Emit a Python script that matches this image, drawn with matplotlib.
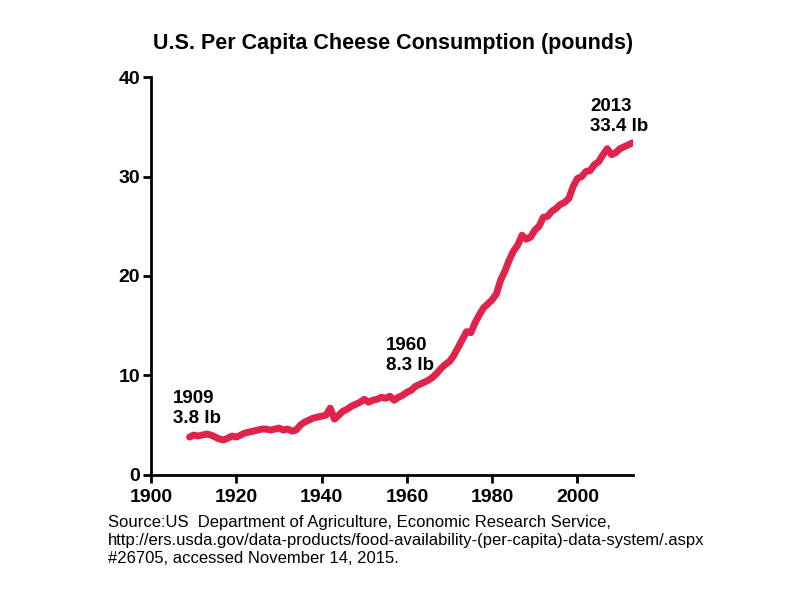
import numpy as np
from matplotlib import pyplot as plt

plt.rcParams['font.family'] = ['Liberation Sans', 'DejaVu Sans']

years = list(range(1909, 2014))
cheese = [3.8, 4.0, 3.9, 4.0, 4.1, 4.0, 3.8, 3.6, 3.5, 3.7,
          3.9, 3.8, 4.0, 4.2, 4.3, 4.4, 4.5, 4.6, 4.6, 4.5,
          4.6, 4.7, 4.5, 4.6, 4.4, 4.5, 5.0, 5.3, 5.5, 5.7,
          5.8, 5.9, 6.0, 6.7, 5.6, 6.0, 6.4, 6.6, 6.9, 7.1,
          7.3, 7.6, 7.3, 7.5, 7.6, 7.8, 7.7, 7.9, 7.5, 7.8,
          8.0, 8.3, 8.5, 8.9, 9.1, 9.3, 9.5, 9.8, 10.2, 10.7,
          11.1, 11.4, 12.0, 12.8, 13.6, 14.4, 14.3, 15.3, 16.1, 16.8,
          17.2, 17.6, 18.2, 19.6, 20.5, 21.6, 22.5, 23.1, 24.1, 23.7,
          23.9, 24.6, 25.0, 25.9, 26.0, 26.5, 26.8, 27.2, 27.4, 27.8,
          29.0, 29.8, 30.0, 30.5, 30.6, 31.2, 31.5, 32.2, 32.8, 32.2,
          32.4, 32.8, 33.0, 33.2, 33.4]

labels = {1909: "1909\n3.8 lb", 1960: "1960\n8.3 lb", 2013: "2013\n33.4 lb"}
label_offsets = {1909: (-4, 1.0), 1960: (-5, 1.8), 2013: (-10, 0.8)}

source = ("Source:US  Department of Agriculture, Economic Research Service,\n"
          "http://ers.usda.gov/data-products/food-availability-(per-capita)-data-system/.aspx\n"
          "#26705, accessed November 14, 2015.")

fig = plt.figure(figsize=(8, 5.98), dpi=100)
ax = fig.add_axes([0.189, 0.206, 0.602, 0.665])

ax.plot(years, cheese, color='#e0234a', lw=5, solid_capstyle='round')

for yr, txt in labels.items():
    dx, dy = label_offsets[yr]
    v = cheese[years.index(yr)]
    ax.text(yr + dx, v + dy, txt, fontsize=13.5, fontweight='bold', ha='left', va='bottom', linespacing=1.25)

ax.set_xlim(1900, 2013)
ax.set_ylim(0, 40)
ax.set_xticks([1900, 1920, 1940, 1960, 1980, 2000])
ax.set_yticks([0, 10, 20, 30, 40])
for s in ['top', 'right']:
    ax.spines[s].set_visible(False)
for s in ['left', 'bottom']:
    ax.spines[s].set_linewidth(2)
ax.tick_params(width=2, length=6, labelsize=14, pad=2)
ax.tick_params(axis='x', pad=4)
for lab in ax.get_xticklabels() + ax.get_yticklabels():
    lab.set_fontweight('bold')

fig.text(0.491, 0.928, "U.S. Per Capita Cheese Consumption (pounds)", fontsize=15.5, fontweight='bold', ha='center', va='center')
fig.text(0.135, 0.138, source, fontsize=12, ha='left', va='top', linespacing=1.25)

fig.savefig('out.png', dpi=100)
